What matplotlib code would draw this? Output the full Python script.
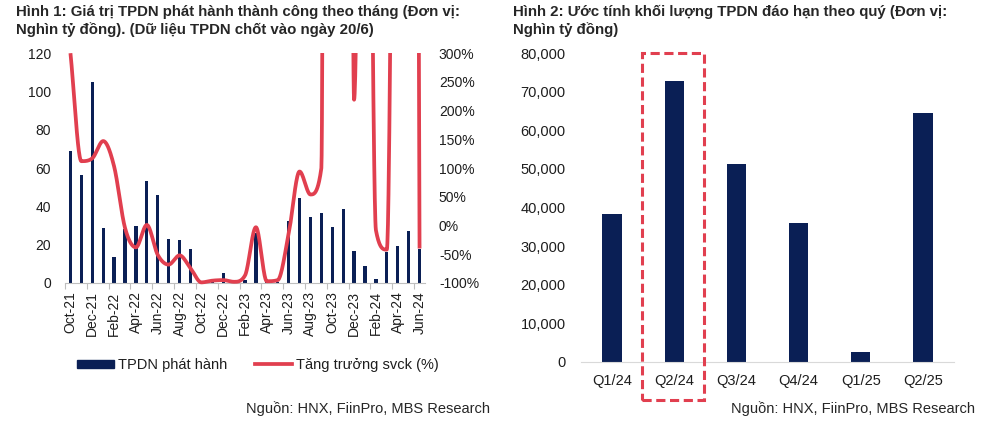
import numpy as np
import matplotlib
matplotlib.use('Agg')
import matplotlib.pyplot as plt
from matplotlib.patches import Rectangle, Patch
from matplotlib.lines import Line2D

plt.rcParams['font.family'] = ['Liberation Sans', 'DejaVu Sans']

# ---- data, chart 1 (monthly issuance, thousand bn VND, and yoy growth %)
months = ['Oct-21', 'Nov-21', 'Dec-21', 'Jan-22', 'Feb-22', 'Mar-22', 'Apr-22', 'May-22',
          'Jun-22', 'Jul-22', 'Aug-22', 'Sep-22', 'Oct-22', 'Nov-22', 'Dec-22', 'Jan-23',
          'Feb-23', 'Mar-23', 'Apr-23', 'May-23', 'Jun-23', 'Jul-23', 'Aug-23', 'Sep-23',
          'Oct-23', 'Nov-23', 'Dec-23', 'Jan-24', 'Feb-24', 'Mar-24', 'Apr-24', 'May-24',
          'Jun-24']
issued = [68.7, 56.5, 104.7, 28.9, 13.7, 28.2, 29.6, 53.4, 45.9, 23.1, 22.4, 17.6, 0.3,
          0.3, 5.2, 0.3, 1.7, 26.1, 0.5, 0.3, 32.2, 44.2, 34.4, 36.7, 29.0, 38.8, 16.7,
          8.7, 2.1, 16.0, 19.1, 27.0, 17.9]
growth = [300, 112, 117, 147, 103, -4, -38, 1, -51, -68, -52, -74, -99, -96, -95, -98,
          -87, -3, -97, -95, -15, 94, 54, 100, 9600, 7700, 219, 1600, -8, -42, 2300,
          5300, -40]

# ---- data, chart 2 (maturing bonds by quarter)
quarters = ['Q1/24', 'Q2/24', 'Q3/24', 'Q4/24', 'Q1/25', 'Q2/25']
maturing = [38270, 72830, 51230, 36110, 2680, 64450]

navy = '#0A1F55'
red = '#E13F4F'
txt = '#1E1E1E'


def smooth(y, per=40):
    # monotone cubic through the points (flat at extremes), close to excel smoothing
    y = np.asarray(y, float)
    n = len(y)
    d = np.diff(y)
    m = np.zeros(n)
    for i in range(1, n - 1):
        if d[i - 1] * d[i] > 0:
            t = (y[i + 1] - y[i - 1]) / 2
            lim = 3 * min(abs(d[i - 1]), abs(d[i]))
            m[i] = np.sign(t) * min(abs(t), lim)
    m[0] = d[0]
    m[-1] = d[-1]
    xs, ys = [], []
    s = np.linspace(0, 1, per)
    h00 = 2 * s**3 - 3 * s**2 + 1
    h10 = s**3 - 2 * s**2 + s
    h01 = -2 * s**3 + 3 * s**2
    h11 = s**3 - s**2
    for i in range(n - 1):
        xs.append(i + s)
        ys.append(h00 * y[i] + h10 * m[i] + h01 * y[i + 1] + h11 * m[i + 1])
    return np.concatenate(xs), np.concatenate(ys)


fig = plt.figure(figsize=(10, 4.36), dpi=100)

# ================= chart 1
ax = fig.add_axes([0.065, 0.351, 0.36, 0.527])
x = np.arange(len(months))
ax.bar(x, issued, width=0.3, color=navy, zorder=2)
ax.set_xlim(-0.5, len(months) - 0.5)
ax.set_ylim(0, 120)
ax.set_yticks(np.arange(0, 121, 20))
for s in ['top', 'right', 'left']:
    ax.spines[s].set_visible(False)
ax.spines['bottom'].set_color('#BFBFBF')
ax.tick_params(axis='y', length=0, pad=10, labelsize=10, labelcolor=txt)
ax.set_xticks(np.arange(-0.5, len(months) - 1, 2))
ax.set_xticklabels([])
ax.tick_params(axis='x', which='major', length=4, color='#BFBFBF')
ax.set_xticks(x[::2], minor=True)
ax.set_xticklabels(months[::2], minor=True, rotation=90, fontsize=10, color=txt)
ax.tick_params(axis='x', which='minor', length=0, pad=6)

ax2 = ax.twinx()
ax2.set_ylim(-100, 300)
ax2.set_yticks(np.arange(-100, 301, 50))
ax2.set_yticklabels([f'{v}%' for v in range(-100, 301, 50)])
for s in ax2.spines.values():
    s.set_visible(False)
ax2.tick_params(axis='y', length=0, pad=10, labelsize=10, labelcolor=txt)
lx, ly = smooth(growth)
ln, = ax2.plot(lx, ly, color=red, lw=2.7, solid_capstyle='butt')
clip = Rectangle((0, -0.03), 1, 1.03, transform=ax2.transAxes, visible=False)
ax2.add_patch(clip)
ln.set_clip_path(clip)

handles = [Patch(color=navy), Line2D([], [], color=red, lw=2.7)]
fig.legend(handles, ['TPDN phát hành', 'Tăng trưởng svck (%)'], loc='center',
           bbox_to_anchor=(0.258, 0.163), ncol=2, frameon=False, fontsize=10.5,
           handlelength=2.5, handleheight=0.5, columnspacing=1.9, handletextpad=0.3,
           labelcolor=txt)

fig.text(0.016, 0.988, 'Hình 1: Giá trị TPDN phát hành thành công theo tháng (Đơn vị:\n'
         'Nghìn tỷ đồng). (Dữ liệu TPDN chốt vào ngày 20/6)', ha='left', va='top',
         fontsize=10.8, fontweight='bold', color='#262626', linespacing=1.22)
fig.text(0.49, 0.053, 'Nguồn: HNX, FiinPro, MBS Research', ha='right', va='baseline',
         fontsize=10.5, color='#262626')

# ================= chart 2
bx = fig.add_axes([0.581, 0.170, 0.373, 0.708])
q = np.arange(len(quarters))
bx.bar(q, maturing, width=0.31, color=navy, zorder=2)
bx.set_xlim(-0.5, len(quarters) - 0.5)
bx.set_ylim(0, 80000)
bx.set_yticks(np.arange(0, 80001, 10000))
bx.set_yticklabels([f'{v:,}' for v in range(0, 80001, 10000)])
for s in ['top', 'right', 'left']:
    bx.spines[s].set_visible(False)
bx.spines['bottom'].set_color('#D9D9D9')
bx.set_xticks(q)
bx.set_xticklabels(quarters)
bx.tick_params(axis='y', length=0, pad=11, labelsize=10.5, labelcolor=txt)
bx.tick_params(axis='x', length=0, pad=9, labelsize=10.5, labelcolor=txt)

box = Rectangle((0.48, -9850), 1.0, 89850, fill=False, edgecolor=red, lw=2.2,
                linestyle=(0, (3, 1.5)), clip_on=False, zorder=3)
bx.add_patch(box)

fig.text(0.513, 0.988, 'Hình 2: Ước tính khối lượng TPDN đáo hạn theo quý (Đơn vị:\n'
         'Nghìn tỷ đồng)', ha='left', va='top',
         fontsize=10.8, fontweight='bold', color='#262626', linespacing=1.22)
fig.text(0.975, 0.053, 'Nguồn: HNX, FiinPro, MBS Research', ha='right', va='baseline',
         fontsize=10.5, color='#262626')

fig.savefig('out.png', dpi=100)
